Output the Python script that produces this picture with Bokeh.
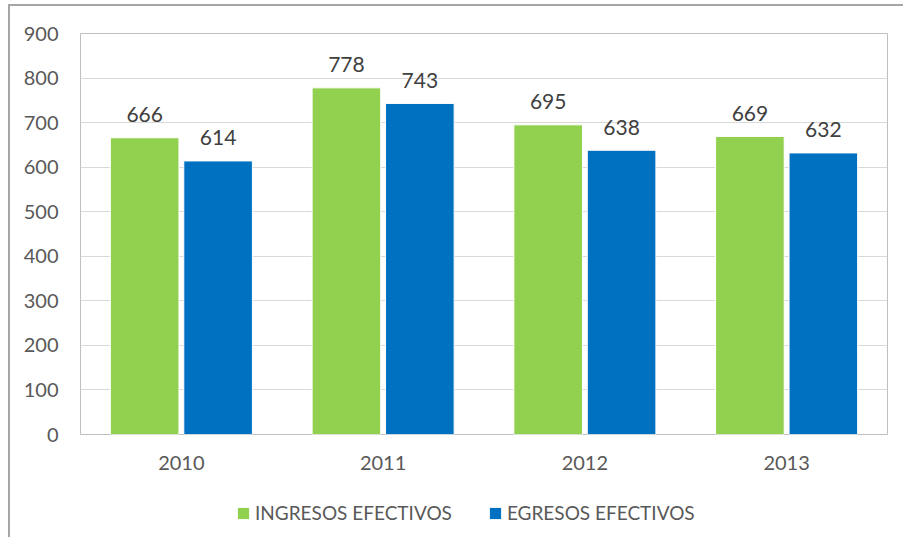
from bokeh.plotting import figure
from bokeh.layouts import column
from bokeh.models import ColumnDataSource, FactorRange, Legend, LegendItem, Range1d, FixedTicker
from bokeh.transform import dodge
from bokeh.core.properties import value
from bokeh.embed import file_html
from bokeh.resources import INLINE

years = ["2010", "2011", "2012", "2013"]
ingresos = [666, 778, 695, 669]
egresos = [614, 743, 638, 632]
series_names = ["INGRESOS EFECTIVOS", "EGRESOS EFECTIVOS"]
y_ticks = [0, 100, 200, 300, 400, 500, 600, 700, 800, 900]

GREEN = "#92D050"
BLUE = "#0070C0"
FONT = "Lato"

src = ColumnDataSource(dict(
    year=years, ing=ingresos, egr=egresos,
    ing_lbl=[str(v) for v in ingresos], egr_lbl=[str(v) for v in egresos],
))

p = figure(width=893, height=482, x_range=FactorRange(*years, range_padding=0),
           y_range=Range1d(0, 900), output_backend="svg", toolbar_location=None,
           min_border_left=70, min_border_right=16, min_border_top=27, min_border_bottom=54)

r1 = p.vbar(x=dodge("year", -0.182, range=p.x_range), top="ing", width=0.34, source=src,
            fill_color=GREEN, line_color="white", line_width=1)
r2 = p.vbar(x=dodge("year", 0.182, range=p.x_range), top="egr", width=0.34, source=src,
            fill_color=BLUE, line_color="white", line_width=1)

p.text(x=dodge("year", -0.182, range=p.x_range), y="ing", text="ing_lbl", source=src,
       text_align="center", text_baseline="middle", y_offset=-23,
       text_font=value(FONT), text_font_size="21px", text_color="#404040")
p.text(x=dodge("year", 0.182, range=p.x_range), y="egr", text="egr_lbl", source=src,
       text_align="center", text_baseline="middle", y_offset=-23,
       text_font=value(FONT), text_font_size="21px", text_color="#404040")

p.yaxis.ticker = FixedTicker(ticks=y_ticks)
p.yaxis.axis_line_color = None
p.yaxis.major_tick_line_color = None
p.yaxis.minor_tick_line_color = None
p.yaxis.major_label_text_font = FONT
p.yaxis.major_label_text_font_size = "20px"
p.yaxis.major_label_text_color = "#595959"
p.yaxis.major_label_standoff = 16

p.xaxis.axis_line_color = None
p.xaxis.major_tick_line_color = None
p.xaxis.minor_tick_line_color = None
p.xaxis.major_label_text_font = FONT
p.xaxis.major_label_text_font_size = "20px"
p.xaxis.major_label_text_color = "#595959"
p.xaxis.major_label_standoff = 15

p.xgrid.grid_line_color = None
p.ygrid.grid_line_color = "#D9D9D9"
p.ygrid.ticker = FixedTicker(ticks=y_ticks)
p.outline_line_color = "#BFBFBF"
p.outline_line_width = 1

# legend strip: same data, but a y range that keeps the bars out of view
p2 = figure(width=893, height=49, x_range=FactorRange(*years), y_range=Range1d(5000, 6000),
            output_backend="svg", toolbar_location=None,
            x_axis_location=None, y_axis_location=None,
            min_border_left=0, min_border_right=0, min_border_top=0, min_border_bottom=0)
p2.grid.grid_line_color = None
p2.outline_line_color = None
l1 = p2.vbar(x="year", top="ing", width=0.3, source=src, fill_color=GREEN, line_color=None)
l2 = p2.vbar(x="year", top="egr", width=0.3, source=src, fill_color=BLUE, line_color=None)

legend = Legend(items=[LegendItem(label=series_names[0], renderers=[l1]),
                       LegendItem(label=series_names[1], renderers=[l2])],
                orientation="horizontal", location=(156, 13),
                label_text_font=FONT, label_text_font_size="19px", label_text_color="#595959",
                glyph_width=14, glyph_height=14, spacing=36, label_standoff=5,
                border_line_color=None, background_fill_alpha=0, margin=0, padding=0)
p2.add_layout(legend)

layout = column(p, p2, spacing=0)
layout.styles = {"margin-left": "8px", "margin-top": "4px",
                 "border-left": "2px solid #A6A6A6", "border-top": "2px solid #A6A6A6"}

open("out.html", "w").write(file_html(layout, INLINE))
